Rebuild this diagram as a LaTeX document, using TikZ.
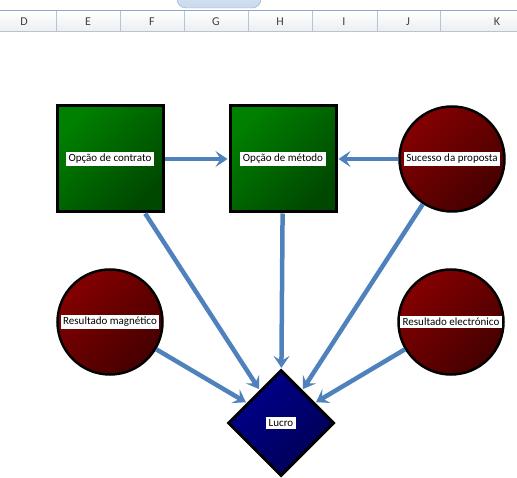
\documentclass[tikz,border=0pt]{standalone}
\usepackage{fontspec}
\setmainfont{Carlito}
\usetikzlibrary{shapes.geometric,arrows.meta}

\definecolor{arrowblue}{HTML}{4F81BD}
\definecolor{hdrline}{HTML}{B7C4D4}
\definecolor{hdrtop}{HTML}{8EA9CC}
\definecolor{hdrfill}{HTML}{ECEEF1}
\definecolor{hdrtext}{HTML}{404040}
\definecolor{tabfill}{HTML}{C9D9EE}

\tikzset{
  lbl/.style={fill=white,inner sep=2.5pt,font=\fontsize{11}{12}\selectfont},
  decision/.style={rectangle,draw=black,line width=3pt,minimum size=106pt,
    shading=axis,top color=green!50!black,bottom color=green!28!black,shading angle=45},
  chance/.style={circle,draw=black,line width=2.5pt,minimum size=105pt,
    shading=axis,top color=red!52!black,bottom color=red!27!black,shading angle=45},
  value/.style={diamond,draw=black,line width=3pt,minimum size=106pt,inner sep=0pt,
    shading=axis,top color=blue!55!black,bottom color=blue!33!black,shading angle=45},
  link/.style={draw=arrowblue,line width=4.5pt,
    -{Stealth[length=12pt,width=16pt,inset=5pt]},shorten >=1pt},
  colhd/.style={text=hdrtext,font=\fontsize{12}{13}\selectfont}
}

\begin{document}
\begin{tikzpicture}[x=1pt,y=-1pt]
  \useasboundingbox (0,0) rectangle (517,478);

  % folha de calculo
  \shade[top color=white,bottom color=hdrfill] (0,11) rectangle (517,31);
  \draw[hdrtop,line width=1pt] (0,11) -- (517,11);
  \draw[hdrline,line width=0.8pt] (0,31.5) -- (517,31.5);
  \shade[top color=tabfill!70,bottom color=tabfill,draw=hdrtop,rounded corners=9pt]
    (177,-12) rectangle (261,8);
  \foreach \x in {56,120,184,248,312,377,440}
    \draw[hdrline,line width=0.6pt] (\x,11) -- (\x,31);
  \foreach \x/\c in {24/D,88/E,152/F,216/G,280/H,344/I,408/J,497/K}
    \node[colhd] (col\c) at (\x,21.5) {\c};

  % nos
  \node[decision,label={[lbl]center:Opção de contrato}] (contrato) at (110,159) {};
  \node[decision,label={[lbl]center:Opção de método}] (metodo) at (283,159) {};
  \node[chance,label={[lbl]center:Sucesso da proposta}] (proposta) at (452,159) {};
  \node[chance,label={[lbl]center:Resultado magnético}] (magnetico) at (110,322) {};
  \node[chance,label={[lbl]center:Resultado electrónico}] (electronico) at (451,322) {};
  \node[value,label={[lbl]center:Lucro}] (lucro) at (281,423) {};

  % ligacoes
  \begin{scope}[every edge/.style={link}]
    \path (contrato) edge (metodo);
    \path (proposta) edge (metodo);
    \path (contrato) edge (lucro);
    \path (metodo) edge (lucro);
    \path (proposta) edge (lucro);
    \path (magnetico) edge (lucro);
    \path (electronico) edge (lucro);
  \end{scope}

\end{tikzpicture}
\end{document}
